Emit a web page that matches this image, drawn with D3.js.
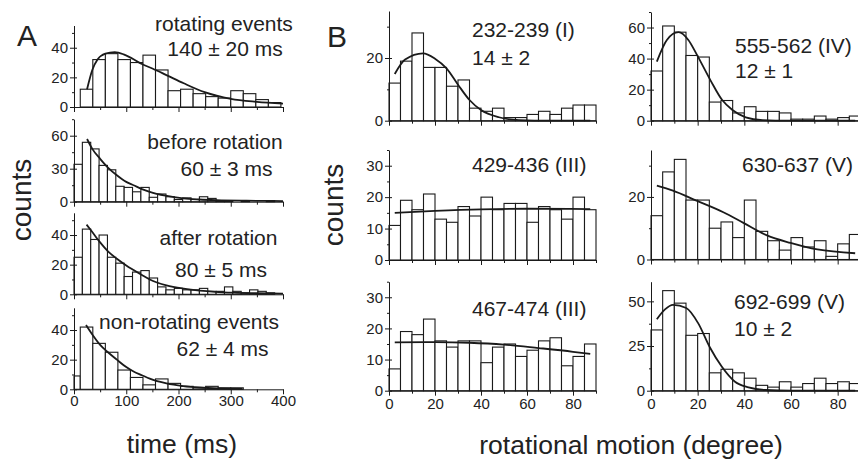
<!DOCTYPE html>
<html>
<head>
<meta charset="utf-8">
<script src="https://cdn.jsdelivr.net/npm/d3@7"></script>
<style>
body { margin: 0; background: #fff; }
svg { display: block; font-family: "Liberation Sans", Arial, Helvetica, sans-serif; }
</style>
</head>
<body>
<div id="vis"></div>
<script>
// ---- panel A: dwell time histograms (ms) ----
var rotatingCounts = [12, 32, 36, 32, 30, 35, 25, 11, 12, 9, 7, 6, 11, 9, 5, 3];
var rotatingFit = [[25, 12], [35, 25], [45, 32], [60, 36], [78, 37], [95, 35.5], [110, 33], [130, 29],
    [150, 26], [180, 21], [210, 16], [250, 10], [300, 5.5], [350, 3.5], [400, 2.3]];

var beforeCounts = [34, 54, 48, 33, 29, 14, 13, 9, 13, 4, 7, 4.5, 2, 3.5, 2, 4.5, 3, 1, 1, 0, 1, 0, 0, 1, 0];
var beforeFit = [[25, 57], [35, 48], [50, 39], [65, 31], [82, 24], [100, 18], [114, 15], [130, 11.5],
    [145, 9], [175, 5.5], [209, 3], [240, 2], [273, 1.4], [330, 0.9], [400, 0.6]];

var afterCounts = [25, 44, 37, 40, 25, 21, 12, 15, 16, 11, 5, 3, 4, 3, 3, 4, 2, 2, 5, 2, 1, 3, 2, 1, 0];
var afterFit = [[24, 47], [35, 42], [50, 35], [65, 29], [82, 24], [100, 19.5], [114, 16.4], [130, 13],
    [145, 10], [177, 6], [210, 3.8], [241, 2.5], [270, 1.7], [305, 1.1], [350, 0.7], [400, 0.45]];

var nonRotCounts = [9, 42, 31, 25, 13, 8, 3, 7, 4, 2, 1, 2, 1, 1];
var nonRotFit = [[23, 43.4], [35, 37], [50, 30], [65, 25], [82, 20], [100, 15], [114, 12], [130, 9.5],
    [145, 7.2], [177, 4], [209, 2.2], [241, 1.2], [280, 0.6], [322, 0.3]];

var timeTicks = [0, 100, 200, 300, 400];
var timeMinor = [50, 150, 250, 350];

// ---- panel B: rotational motion histograms (degree) ----
var angleTicks = [0, 20, 40, 60, 80];
var angleMinor = [10, 30, 50, 70, 90];

var counts232 = [12, 19, 28, 17, 17, 11, 13, 4, 3, 4, 1, 1, 2, 3, 2, 4, 5, 5];
var fit232 = [[2.5, 14.9], [7, 19.5], [14.8, 21.5], [20, 19.8], [25, 16.7], [30, 11.5], [35, 6.6],
    [40, 3.4], [47.8, 1.1], [56.5, 0.2], [70, 0], [87.5, 0]];

var counts555 = [32, 61, 57, 42, 41, 12, 13, 5, 9, 6, 6, 5, 1, 1, 3, 1, 2, 3];
var fit555 = [[2.5, 38], [6.8, 52], [11.8, 57], [16, 52], [19.7, 42.4], [25.5, 26], [30.5, 13.3],
    [34.9, 6.9], [40.6, 2.2], [47.8, 0.4], [59, 0], [87.5, 0]];

var counts429 = [11, 19, 16, 21, 13, 12, 17, 14, 20, 16, 18, 18, 12, 17, 16, 13, 20, 16];
var fit429 = [[2.5, 15], [20, 15.6], [40, 16.1], [60, 16.3], [87.5, 16.2]];

var counts630 = [14, 28, 32, 19, 19, 10, 12, 7, 19, 9, 6, 3, 7, 4, 6, 1, 5, 8];
var fit630 = [[2.5, 23.6], [9.4, 22], [19.5, 18.8], [31, 15.1], [39.6, 11.7], [49.7, 7.7],
    [59.8, 5.3], [71.3, 3.2], [87.5, 2]];

var counts467 = [7, 19, 18, 23, 16, 14, 16, 16, 9, 14, 15, 11, 13, 16, 17, 8, 11, 15];
var fit467 = [[2.5, 15.5], [20, 15.6], [35, 15.4], [50, 14.8], [65, 13.7], [80, 12.5], [87.5, 11.8]];

var counts692 = [34, 56, 49, 31, 32, 10, 12, 10, 7, 3, 2, 5, 2, 4, 7, 4, 5, 4];
var fit692 = [[2.5, 40], [6, 45.5], [9.4, 48], [15.1, 46.3], [20.2, 37.8], [25.2, 24.3], [30.3, 13.5],
    [36, 5], [41.8, 1.9], [49, 0.4], [60, 0], [87.5, 0]];

var W = 858, H = 460;

var svg = d3.select("#vis")
    .append("svg")
    .attr("width", W)
    .attr("height", H);

var ink = "#1a1a1a";

function drawHist(p) {
    var x = d3.scaleLinear().domain(p.xDomain).range(p.xRange);
    var y = d3.scaleLinear().domain([0, p.yMax]).range([p.y0, p.yTop]);
    var g = svg.append("g");

    g.selectAll("rect.bar")
        .data(p.counts)
        .enter()
        .append("rect")
        .attr("class", "bar")
        .attr("x", function(d, i) {
            return x(Math.max(p.xDomain[0], p.binStart + i * p.binWidth));
        })
        .attr("width", function(d, i) {
            var a = Math.max(p.xDomain[0], p.binStart + i * p.binWidth);
            return x(p.binStart + (i + 1) * p.binWidth) - x(a);
        })
        .attr("y", function(d) { return y(d); })
        .attr("height", function(d) { return y(0) - y(d); })
        .attr("fill", "#fff")
        .attr("stroke", ink)
        .attr("stroke-width", 1.1);

    var line = d3.line()
        .x(function(d) { return x(d[0]); })
        .y(function(d) { return y(d[1]); })
        .curve(d3.curveMonotoneX);

    g.append("path")
        .datum(p.fit)
        .attr("d", line)
        .attr("fill", "none")
        .attr("stroke", ink)
        .attr("stroke-width", 1.8);

    // x axis
    var xa = g.append("g")
        .attr("transform", "translate(0," + y(0) + ")")
        .call(d3.axisBottom(x).tickValues(p.xTicks).tickSizeInner(5).tickSizeOuter(0)
            .tickFormat(p.xLabels ? d3.format("d") : ""));
    g.append("g")
        .attr("transform", "translate(0," + y(0) + ")")
        .call(d3.axisBottom(x).tickValues(p.xMinor).tickSizeInner(3).tickSizeOuter(0).tickFormat(""))
        .select(".domain").remove();

    // y axis
    var ya = g.append("g")
        .attr("transform", "translate(" + x(p.xDomain[0]) + ",0)")
        .call(d3.axisLeft(y).tickValues(p.yTicks).tickSizeInner(4).tickSizeOuter(0)
            .tickFormat(d3.format("d")));
    ya.selectAll(".tick line").attr("x1", 3);
    g.append("g")
        .attr("transform", "translate(" + x(p.xDomain[0]) + ",0)")
        .call(d3.axisLeft(y).tickValues(p.yMinor).tickSizeInner(2).tickSizeOuter(0).tickFormat(""))
        .select(".domain").remove();

    g.selectAll(".domain, .tick line").attr("stroke", ink).attr("stroke-width", 1);
    g.selectAll(".tick text")
        .attr("font-family", null)
        .attr("font-size", 15)
        .attr("fill", "#222");
    ya.selectAll(".tick text").attr("x", -6);
    xa.selectAll(".tick text").attr("y", p.xLabelDy || 7);

    p.notes.forEach(function(n) {
        svg.append("text")
            .attr("x", n[1])
            .attr("y", n[2])
            .attr("text-anchor", n[3])
            .attr("font-size", 21)
            .attr("fill", "#222")
            .text(n[0]);
    });
}

var aX = [74, 283];

drawHist({
    xDomain: [0, 400], xRange: aX, xTicks: timeTicks, xMinor: timeMinor, xLabels: false,
    y0: 107, yTop: 25.5, yMax: 55, yTicks: [0, 20, 40], yMinor: [10, 30, 50],
    binStart: 12, binWidth: 24, counts: rotatingCounts, fit: rotatingFit,
    notes: [["rotating events", 224, 31, "middle"], ["140 \u00b1 20 ms", 225, 56, "middle"]]
});
drawHist({
    xDomain: [0, 400], xRange: aX, xTicks: timeTicks, xMinor: timeMinor, xLabels: false,
    y0: 201.7, yTop: 119.2, yMax: 75, yTicks: [0, 30, 60], yMinor: [15, 45, 75],
    binStart: 0, binWidth: 16, counts: beforeCounts, fit: beforeFit,
    notes: [["before rotation", 215, 149, "middle"], ["60 \u00b1 3 ms", 226.5, 176, "middle"]]
});
drawHist({
    xDomain: [0, 400], xRange: aX, xTicks: timeTicks, xMinor: timeMinor, xLabels: false,
    y0: 294.3, yTop: 212.8, yMax: 55, yTicks: [0, 20, 40], yMinor: [10, 30, 50],
    binStart: 0, binWidth: 16, counts: afterCounts, fit: afterFit,
    notes: [["after rotation", 218.5, 245, "middle"], ["80 \u00b1 5 ms", 221, 277, "middle"]]
});
drawHist({
    xDomain: [0, 400], xRange: aX, xTicks: timeTicks, xMinor: timeMinor, xLabels: true, xLabelDy: 6,
    y0: 389.3, yTop: 307.8, yMax: 55, yTicks: [0, 20, 40], yMinor: [10, 30, 50],
    binStart: -12, binWidth: 24, counts: nonRotCounts, fit: nonRotFit,
    notes: [["non-rotating events", 189, 329, "middle"], ["62 \u00b1 4 ms", 222.5, 356, "middle"]]
});

var bL = [389, 596], bR = [651, 861];

drawHist({
    xDomain: [0, 90], xRange: bL, xTicks: angleTicks, xMinor: angleMinor, xLabels: false,
    y0: 120.7, yTop: 11, yMax: 35, yTicks: [0, 20], yMinor: [10, 30],
    binStart: 0, binWidth: 5, counts: counts232, fit: fit232,
    notes: [["232-239 (I)", 472, 37, "start"], ["14 \u00b1 2", 472, 65, "start"]]
});
drawHist({
    xDomain: [0, 90], xRange: bR, xTicks: angleTicks, xMinor: angleMinor, xLabels: false,
    y0: 120.7, yTop: 12, yMax: 70, yTicks: [0, 20, 40, 60], yMinor: [10, 30, 50, 70],
    binStart: 0, binWidth: 5, counts: counts555, fit: fit555,
    notes: [["555-562 (IV)", 735, 53, "start"], ["12 \u00b1 1", 735, 78, "start"]]
});
drawHist({
    xDomain: [0, 90], xRange: bL, xTicks: angleTicks, xMinor: angleMinor, xLabels: false,
    y0: 260, yTop: 150, yMax: 35, yTicks: [0, 10, 20, 30], yMinor: [5, 15, 25, 35],
    binStart: 0, binWidth: 5, counts: counts429, fit: fit429,
    notes: [["429-436 (III)", 472, 172, "start"]]
});
drawHist({
    xDomain: [0, 90], xRange: bR, xTicks: angleTicks, xMinor: angleMinor, xLabels: false,
    y0: 259.5, yTop: 150, yMax: 35, yTicks: [0, 20], yMinor: [10, 30],
    binStart: 0, binWidth: 5, counts: counts630, fit: fit630,
    notes: [["630-637 (V)", 742, 172, "start"]]
});
drawHist({
    xDomain: [0, 90], xRange: bL, xTicks: angleTicks, xMinor: angleMinor, xLabels: true, xLabelDy: 8,
    y0: 390.7, yTop: 281.7, yMax: 35, yTicks: [0, 10, 20, 30], yMinor: [5, 15, 25, 35],
    binStart: 0, binWidth: 5, counts: counts467, fit: fit467,
    notes: [["467-474 (III)", 472, 316, "start"]]
});
drawHist({
    xDomain: [0, 90], xRange: bR, xTicks: angleTicks, xMinor: angleMinor, xLabels: true, xLabelDy: 8,
    y0: 390.7, yTop: 281.7, yMax: 61, yTicks: [0, 25, 50], yMinor: [12.5, 37.5],
    binStart: 0, binWidth: 5, counts: counts692, fit: fit692,
    notes: [["692-699 (V)", 734, 309, "start"], ["10 \u00b1 2", 734, 336, "start"]]
});

// panel letters and axis titles
svg.append("text").attr("x", 17).attr("y", 46).attr("font-size", 30).attr("fill", "#222").text("A");
svg.append("text").attr("x", 327).attr("y", 47).attr("font-size", 30).attr("fill", "#222").text("B");

svg.append("text")
    .attr("transform", "translate(31,200) rotate(-90)")
    .attr("text-anchor", "middle")
    .attr("font-size", 28)
    .attr("fill", "#222")
    .text("counts");
svg.append("text")
    .attr("transform", "translate(343,205) rotate(-90)")
    .attr("text-anchor", "middle")
    .attr("font-size", 28)
    .attr("fill", "#222")
    .text("counts");

svg.append("text")
    .attr("x", 182).attr("y", 453)
    .attr("text-anchor", "middle")
    .attr("font-size", 26.5)
    .attr("fill", "#222")
    .text("time (ms)");
svg.append("text")
    .attr("x", 631).attr("y", 454)
    .attr("text-anchor", "middle")
    .attr("font-size", 26.5)
    .attr("fill", "#222")
    .text("rotational motion (degree)");
</script>
</body>
</html>
